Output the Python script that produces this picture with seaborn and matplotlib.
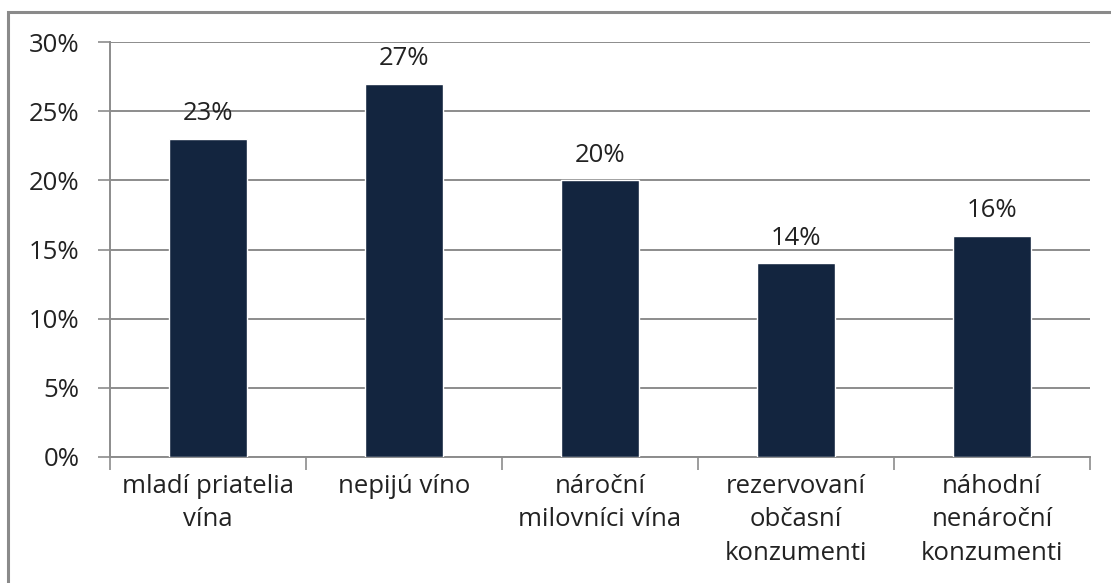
import matplotlib
matplotlib.use("Agg")
import matplotlib.pyplot as plt
import seaborn as sns
import pandas as pd
import numpy as np
from matplotlib.patches import Rectangle
from matplotlib.ticker import FixedLocator

categories = ["mladí priatelia\nvína", "nepijú víno", "nároční\nmilovníci vína",
              "rezervovaní\nobčasní\nkonzumenti", "náhodní\nnenároční\nkonzumenti"]
values = [23, 27, 20, 14, 16]
yticks = [0, 5, 10, 15, 20, 25, 30]

sns.set_theme(style="white")
plt.rcParams['font.family'] = ['Open Sans', 'DejaVu Sans']

df = pd.DataFrame({"cat": categories, "val": values})

fig = plt.figure(figsize=(11.11, 5.83), dpi=100)
ax = fig.add_axes([110/1111, 1-457/583, 980/1111, 415/583])

sns.barplot(data=df, x="cat", y="val", color="#13253F", width=0.4, ax=ax,
            saturation=1, zorder=3)

gray = "#8C8C8C"
fs = 18.5
tc = "#222222"
ax.set_ylim(0, 30)
ax.set_xlim(-0.5, len(categories) - 0.5)
ax.set_yticks(yticks)
ax.set_yticklabels([f"{v}%" for v in yticks], fontsize=fs, color=tc)
ax.yaxis.grid(True, color=gray, linewidth=1.4, zorder=0)
ax.set_axisbelow(True)
ax.tick_params(axis="y", length=9, width=1.2, color=gray, pad=13, left=True)
ax.tick_params(axis="x", which="major", length=0, pad=12)
ax.set_xticks(range(len(categories)))
ax.set_xticklabels(categories, fontsize=fs, color=tc, linespacing=1.45)
ax.xaxis.set_minor_locator(FixedLocator(np.arange(-0.5, len(categories), 1)))
ax.tick_params(axis="x", which="minor", length=9, width=1.2, color=gray, bottom=True)
ax.set_xlabel("")
ax.set_ylabel("")
for s in ["top", "right"]:
    ax.spines[s].set_visible(False)
for s in ["left", "bottom"]:
    ax.spines[s].set_color(gray)
    ax.spines[s].set_linewidth(1.4)

for c in ax.containers:
    ax.bar_label(c, labels=[f"{v}%" for v in values], padding=9, fontsize=fs, color=tc)

fig.add_artist(Rectangle((8/1111, -0.1), 1.2, 1.1 - 12/583, transform=fig.transFigure,
                         fill=False, edgecolor="#8A8A8A", linewidth=2.2))

fig.savefig("out.png", dpi=100)
